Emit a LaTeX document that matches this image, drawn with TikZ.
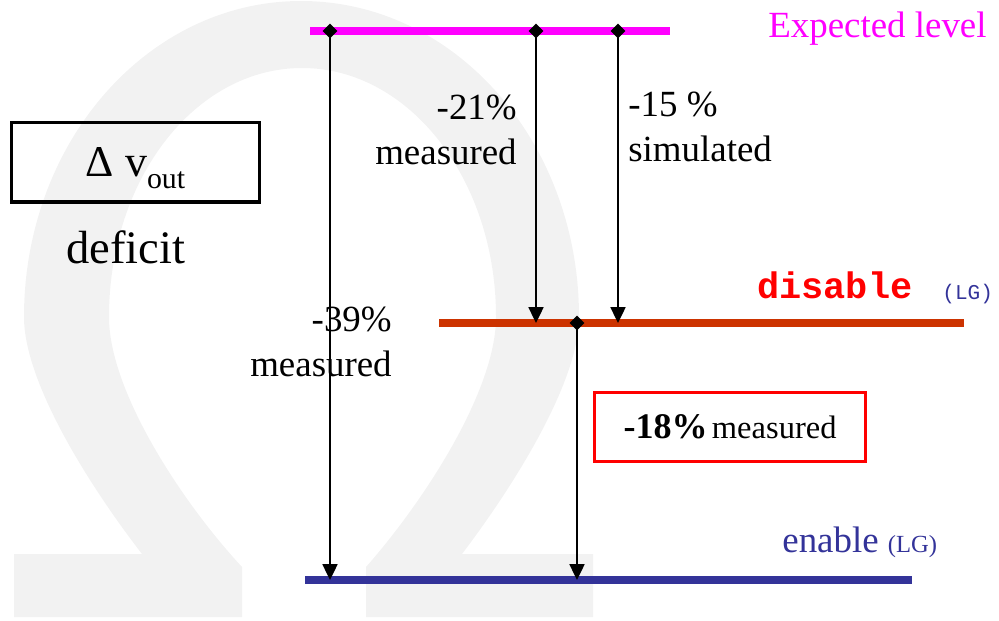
\documentclass[tikz,border=0pt]{standalone}
\usepackage{fontspec}
\setmainfont{Liberation Serif}
\setmonofont{Liberation Mono}
\usetikzlibrary{arrows.meta,positioning}

\definecolor{expmagenta}{HTML}{FF00FF}
\definecolor{disablered}{HTML}{CC3300}
\definecolor{enableblue}{HTML}{333399}
\definecolor{omegagray}{HTML}{F2F2F2}

\tikzset{
  level/.style={line width=4.3pt},
  drop/.style={line width=1.1pt,{Diamond[length=8.5pt,width=8.5pt]}-{Triangle[length=9pt,width=8.5pt]},shorten <=-4.25pt},
  lbl/.style={inner sep=0pt,font=\fontsize{21}{25.5}\selectfont},
}

\begin{document}
\begin{tikzpicture}[x=0.02cm,y=-0.02cm]
    \useasboundingbox (0,0) rectangle (999,620);

    % background omega
    \fill[omegagray] (14,617) -- (242,617) -- (242,567)
        .. controls (180,500) and (109,390) .. (109,317)
        .. controls (109,179) and (195,68) .. (302,68)
        .. controls (409,68) and (496,179) .. (496,317)
        .. controls (496,390) and (425,500) .. (366,567)
        -- (366,617) -- (593,617) -- (593,554) -- (462,554)
        .. controls (518,480) and (579,380) .. (579,317)
        .. controls (579,142) and (455,1) .. (301,1)
        .. controls (148,1) and (24,142) .. (24,317)
        .. controls (24,380) and (85,480) .. (142,554)
        -- (14,554) -- cycle;

    % levels
    \coordinate (exp-l) at (310,31);
    \coordinate (exp-r) at (670,31);
    \coordinate (dis-l) at (439,323);
    \coordinate (dis-r) at (964,323);
    \coordinate (en-l) at (305,580);
    \coordinate (en-r) at (912,580);
    \draw[level,expmagenta] (exp-l) -- (exp-r);
    \draw[level,disablered] (dis-l) -- (dis-r);
    \draw[level,enableblue] (en-l) -- (en-r);

    % level names
    \node[lbl,expmagenta,anchor=base west] (exptxt) at (768,37) {Expected level};
    \node[lbl,red,anchor=base west,font=\fontsize{21}{25}\selectfont\ttfamily\bfseries] (distxt) at (757,298) {disable};
    \node[inner sep=0pt,enableblue,anchor=base west,font=\fontsize{12}{14}\selectfont\ttfamily] (dislg) at (942,299) {(LG)};
    \node[lbl,enableblue,anchor=base west] (entxt) at (782,552) {enable {\fontsize{14}{16}\selectfont(LG)}};

    % arrow ends
    \coordinate (top39) at (330,31);
    \coordinate (bot39) at (330,580);
    \coordinate (top21) at (536,31);
    \coordinate (bot21) at (536,323);
    \coordinate (top15) at (618,31);
    \coordinate (bot15) at (618,323);
    \coordinate (top18) at (577,323);
    \coordinate (bot18) at (577,580);

    % deficits
    \draw[drop] (top39) -- (bot39);
    \draw[drop] (top21) -- (bot21);
    \draw[drop] (top15) -- (bot15);
    \draw[drop] (top18) -- (bot18);

    \node[lbl,align=right,anchor=east] (m21) at (517,130) {-21\%\\measured};
    \node[lbl,align=left,anchor=west] (s15) at (628,127) {-15 \%\\simulated};
    \node[lbl,align=right,anchor=east] (m39) at (392,342) {-39\%\\measured};

    % measured box
    \node[draw=red,line width=1.5pt,minimum width=5.42cm,minimum height=1.38cm,inner sep=0pt] (m18) at (730,427)
        {{\fontsize{20.5}{22}\selectfont\bfseries -18\%} {\fontsize{18.5}{22}\selectfont measured}};

    % delta v box
    \node[draw,line width=1.9pt,minimum width=4.95cm,minimum height=1.59cm,inner sep=0pt,text height=18pt,text depth=2pt] (dv) at (135.5,162.3)
        {\fontsize{25}{30}\selectfont Δ v\raisebox{-7pt}{\fontsize{17}{20}\selectfont out}};
    \node[inner sep=0pt,anchor=base,font=\fontsize{26.5}{32}\selectfont] (deficit) at (126,263) {deficit};
\end{tikzpicture}
\end{document}
